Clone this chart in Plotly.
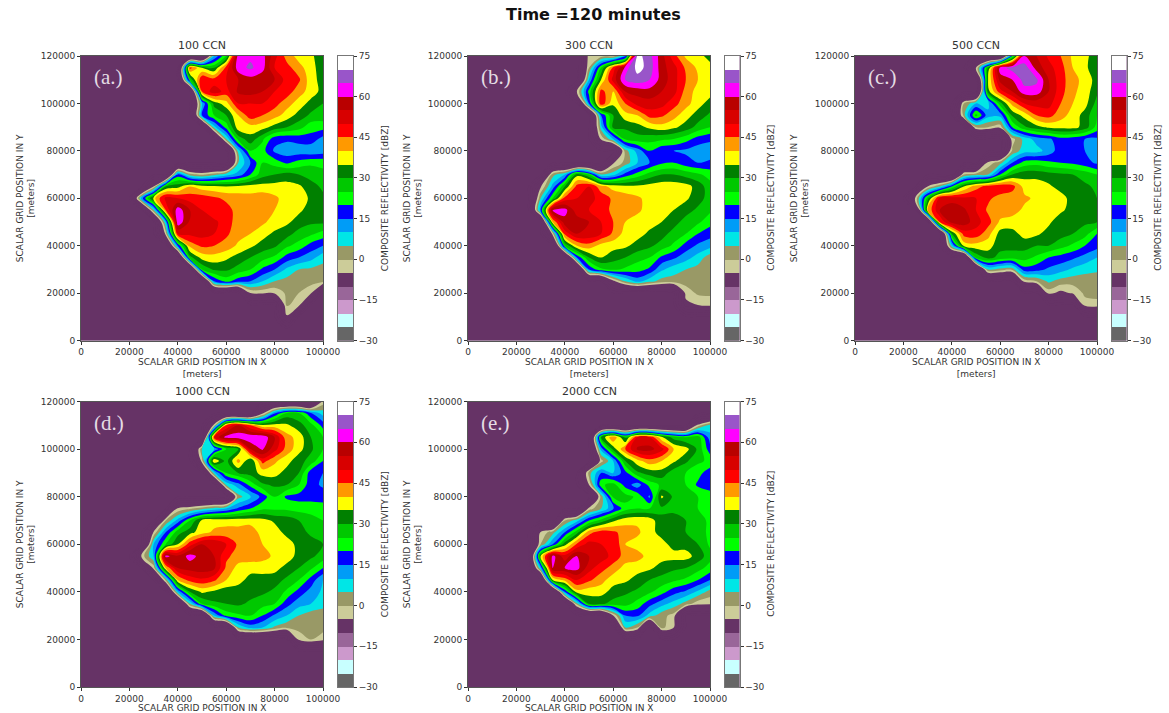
import plotly.graph_objects as go

W, H = 1169, 713
B = -30
XS = list(range(0, 105, 5))
YS = list(range(0, 125, 5))
XT = [0, 20000, 40000, 60000, 80000, 100000]
YT = [0, 20000, 40000, 60000, 80000, 100000, 120000]
CT = [-30, -15, 0, 15, 30, 45, 60, 75]
CCN = ["100 CCN", "300 CCN", "500 CCN", "1000 CCN", "2000 CCN"]
TAGS = ["(a.)", "(b.)", "(c.)", "(d.)", "(e.)"]
LEVEL_MIDS = [-27.5, -22.5, -17.5, -12.5, -7.5, -2.5, 2.5, 7.5, 12.5, 17.5, 22.5, 27.5,
              32.5, 37.5, 42.5, 47.5, 52.5, 57.5, 62.5, 67.5, 72.5]
COLORS = ["#666666", "#c8ffff", "#cc99cc", "#996699", "#663366", "#cccc99", "#999966",
          "#00e6e6", "#009cf7", "#0000ff", "#00ff00", "#00c800", "#008000", "#ffff00",
          "#ff9900", "#ff0000", "#d80000", "#b90000", "#ff00ff", "#9955c9", "#ffffff"]


def r(x0=100, *vals):
    row = [B] * (x0 // 5) + list(vals)
    if vals:
        assert len(row) == 21, (x0, vals)
    else:
        row = [B] * 21
    return row


Z100 = [r(), r(),
        r(85, -6, B, B, B),
        r(85, 1, -3, B, B),
        r(70, -5, -4, -4, 1, 0, -4, B),
        r(55, 15, 22, 17, 15, 10, 5, 3, 1, 2, 2),
        r(50, 25, 31, 31, 28, 25, 19, 15, 9, 5, 4, 3),
        r(45, 28, 37, 38, 36, 33, 30, 27, 24, 18, 15, 12, 7),
        r(40, 15, 42, 46, 45, 43, 39, 36, 33, 31, 26, 23, 18, 15),
        r(35, -3, 50, 51, 52, 50, 46, 42, 40, 37, 34, 32, 28, 26, 23),
        r(35, 10, 64, 54, 53, 51, 48, 42, 42, 41, 38, 36, 33, 31, 31),
        r(30, 5, 45, 63, 55, 50, 47, 47, 43, 42, 42, 40, 37, 36, 33, 31),
        r(25, 12, 38, 52, 50, 48, 48, 46, 44, 43, 42, 43, 41, 38, 38, 34, 31),
        r(30, -5, 30, 33, 40, 37, 36, 35, 36, 37, 37, 37, 37, 36, 32, 29),
        r(40, 17, 2, -1, 3, 8, 12, 20, 28, 30, 32, 30, 28, 26),
        r(65, 5, 15, 25, 23, 19, 22, 24, 24),
        r(65, 8, 25, 22, 14, 12, 12, 11, 12),
        r(60, 5, 27, 33, 26, 17, 16, 17, 18, 13),
        r(55, 8, 22, 38, 38, 37, 33, 30, 27, 22, 22),
        r(50, 15, 25, 30, 40, 48, 45, 42, 38, 33, 29, 28),
        r(50, 10, 32, 38, 50, 50, 50, 47, 42, 38, 33, 30),
        r(50, 45, 53, 48, 56, 57, 55, 50, 48, 42, 38, 33),
        r(45, 25, 50, 47, 50, 55, 58, 56, 55, 48, 46, 37, 33),
        r(45, 47, 35, 30, 47, 63, 66, 62, 50, 47, 42, 37, 32),
        r(55, 10, 25, 63, 64, 62, 52, 43, 38, 36, 32)]

Z300 = [r(), r(), r(),
        r(90, -7, -5, -3),
        r(90, -3, 1, 1),
        r(60, -7, 5, 12, 7, 3, 3, 2, 2, 1),
        r(50, 15, 24, 26, 24, 22, 19, 11, 7, 5, 3, 1),
        r(45, 15, 30, 35, 32, 30, 27, 25, 19, 16, 12, 8, 2),
        r(40, 25, 40, 43, 38, 37, 36, 33, 31, 28, 24, 18, 14, 12),
        r(35, -3, 47, 55, 54, 50, 44, 38, 37, 34, 32, 28, 25, 20, 17),
        r(35, 40, 58, 58, 55, 50, 45, 40, 38, 37, 35, 32, 28, 26, 22),
        r(30, 15, 62, 62, 52, 50, 47, 44, 42, 41, 38, 37, 35, 32, 29, 26),
        r(30, 5, 25, 47, 50, 52, 48, 44, 43, 41, 38, 38, 37, 36, 32, 28),
        r(30, -6, 12, 30, 47, 50, 42, 38, 36, 36, 37, 38, 38, 37, 33, 27),
        r(35, 3, 10, 33, 25, 5, 8, 17, 22, 27, 30, 30, 28, 26, 23),
        r(60, -6, 2, 10, 15, 19, 20, 17, 15, 16),
        r(65, 3, 12, 20, 16, 15, 14, 12, 12),
        r(55, -4, 10, 26, 28, 27, 26, 25, 22, 18, 16),
        r(55, 8, 32, 31, 33, 36, 38, 36, 33, 28, 25),
        r(55, 15, 30, 38, 40, 47, 46, 42, 37, 33, 29),
        r(50, 15, 49, 36, 45, 52, 53, 52, 47, 42, 37, 33),
        r(45, -5, 22, 47, 40, 55, 57, 58, 55, 52, 43, 38, 37),
        r(50, 10, 35, 52, 65, 68, 65, 58, 52, 45, 40, 37),
        r(50, 0, 25, 47, 62, 72, 68, 57, 52, 44, 39, 37),
        r(50, -2, -2, -2, 10, 72, 67, 57, 47, 39, 37, 33)]

Z500 = [r(), r(), r(),
        r(95, -2, -1),
        r(80, -3, -7, -4, 1, 1),
        r(70, -3, 0, 6, 3, 2, 2, 2),
        r(55, 5, 3, 2, 18, 17, 14, 12, 9, 7, 6),
        r(50, 26, 32, 28, 27, 27, 24, 20, 18, 16, 13, 10),
        r(40, 8, 37, 38, 37, 32, 32, 32, 30, 30, 27, 24, 20, 17),
        r(40, 30, 47, 48, 42, 33, 33, 37, 36, 33, 32, 30, 27, 20),
        r(35, 45, 57, 58, 52, 47, 39, 38, 38, 37, 36, 32, 31, 31, 30),
        r(30, 40, 55, 58, 56, 50, 44, 43, 42, 39, 38, 37, 36, 33, 31, 30),
        r(25, -4, 28, 52, 53, 51, 50, 46, 43, 42, 41, 39, 37, 37, 33, 31, 30),
        r(30, -5, 5, 20, 35, 43, 47, 49, 47, 38, 38, 36, 33, 32, 31, 29),
        r(45, 0, 3, 5, 20, 30, 33, 33, 32, 31, 30, 28, 25),
        r(55, -3, 3, 15, 22, 23, 21, 20, 19, 17, 14),
        r(65, 1, 8, 8, 12, 18, 17, 15, 12),
        r(65, -2, 7, 12, 14, 18, 17, 15, 14),
        r(50, 0, 0, -3, 20, 29, 33, 36, 37, 37, 33, 23),
        r(45, 3, 27, 12, 12, 31, 37, 45, 47, 42, 38, 33, 25),
        r(45, 0, 10, 8, 28, 42, 50, 52, 52, 45, 40, 37, 28),
        r(55, 33, 48, 55, 63, 63, 55, 47, 41, 38, 31),
        r(55, 35, 57, 60, 67, 66, 55, 47, 42, 38, 33),
        r(50, -5, 30, 63, 67, 68, 58, 52, 47, 40, 36, 32),
        r(65, 20, 60, 55, 49, 45, 39, 37, 31)]

Z1000 = [r(), r(), r(), r(),
         r(90, -4, 0, -3),
         r(65, 5, 12, 10, 4, 1, 2, 2, 2),
         r(55, 10, 22, 24, 25, 20, 14, 10, 5, 2, 2),
         r(45, 5, 25, 29, 30, 31, 29, 27, 25, 17, 12, 10, 7),
         r(40, 10, 30, 36, 34, 32, 32, 32, 31, 29, 24, 18, 13, 9),
         r(35, 1, 40, 47, 49, 46, 40, 37, 33, 33, 32, 29, 25, 18, 10),
         r(30, -3, 40, 55, 57, 58, 56, 44, 38, 37, 37, 37, 33, 30, 26, 20),
         r(25, -3, 10, 62, 56, 62, 58, 55, 46, 43, 43, 42, 39, 38, 33, 31, 28),
         r(30, 10, 25, 35, 48, 55, 55, 50, 44, 42, 40, 38, 38, 33, 32, 30),
         r(30, -4, 15, 28, 33, 38, 41, 42, 42, 43, 38, 38, 33, 32, 29, 26),
         r(35, 0, 12, 25, 36, 38, 38, 38, 38, 37, 34, 33, 30, 27, 25),
         r(40, -4, -1, 3, 7, 10, 16, 20, 24, 24, 24, 23, 23, 22),
         r(65, 3, 9, 17, 25, 19, 18, 18, 18),
         r(60, 6, 13, 22, 29, 31, 30, 25, 17, 14),
         r(55, 8, 25, 30, 32, 37, 37, 33, 30, 17, 15),
         r(50, -2, 40, 28, 42, 30, 47, 41, 37, 32, 28, 20),
         r(50, 5, 10, 25, 30, 55, 61, 52, 43, 37, 31, 25),
         r(55, 50, 62, 63, 64, 64, 55, 42, 38, 30, 25),
         r(55, -3, 45, 55, 45, 36, 37, 36, 32, 27, 18),
         r(75, -6, 15, 27, 26, 16, 8),
         r(100, -3)]

Z2000 = [r(), r(), r(), r(), r(),
         r(65, 5, 0, B, 2, -5, B, B, B),
         r(60, -5, 15, 16, 8, 2, -2, B, B, B),
         r(45, 3, 31, 31, 28, 27, 23, 17, 12, 8, 3, -3, -4),
         r(40, 15, 38, 37, 37, 33, 31, 29, 26, 22, 17, 14, 9, 3),
         r(35, 35, 42, 50, 46, 42, 37, 36, 33, 30, 28, 26, 24, 20, 15),
         r(30, 10, 60, 60, 62, 52, 47, 43, 38, 37, 36, 33, 31, 30, 27, 23),
         r(30, 35, 62, 52, 60, 55, 53, 48, 43, 42, 38, 37, 37, 37, 33, 27),
         r(30, 0, 15, 33, 46, 52, 50, 50, 40, 38, 38, 37, 33, 33, 30, 24),
         r(30, -4, 3, 15, 28, 43, 48, 46, 43, 41, 37, 33, 31, 30, 27, 24),
         r(40, 0, 8, 20, 27, 34, 38, 39, 38, 31, 33, 30, 27, 24),
         r(50, -3, 5, 14, 23, 25, 25, 29, 28, 28, 25, 24),
         r(55, 2, 26, 27, 24, 14, 36, 29, 27, 25, 24),
         r(50, -5, 24, 27, 18, 12, 22, 26, 27, 25, 19, 16),
         r(50, 3, 15, 10, 18, 29, 32, 33, 27, 25, 22, 17),
         r(55, -2, 10, 30, 38, 43, 40, 36, 31, 26, 24),
         r(55, 12, 32, 45, 56, 57, 52, 40, 37, 29, 17),
         r(55, 30, 45, 28, 50, 50, 36, 28, 25, 28, 12),
         r(95, -3, 7),
         r(), r()]

PANELS = [Z100, Z300, Z500, Z1000, Z2000]
# pixel boxes: left, right, top, bottom, colorbar left
BOX = [(81, 323, 56, 340.5, 338), (468, 710, 56, 340.5, 724.5), (855, 1097, 56, 340.5, 1111.5),
       (81, 323, 401.5, 687, 338), (468, 710, 401.5, 687, 724.5)]

n = len(COLORS)
bar_scale = []
for i, c in enumerate(COLORS):
    bar_scale += [[i / n, c], [(i + 1) / n, c]]
# the map never shows anything under -5 but the background colour
map_scale = []
for i, c in enumerate(COLORS):
    col = COLORS[4] if i < 4 else c
    map_scale += [[i / n, col], [(i + 1) / n, col]]

TXT = "#333333"
FONT = "DejaVu Sans"
F9 = dict(size=9, color=TXT, family=FONT)
fig = go.Figure()
ann = []


def label(text, x, y, **kw):
    font = kw.pop("font", F9)
    ann.append(dict(text=text, x=x / W, y=1 - y / H, xref="paper", yref="paper", showarrow=False,
                    xanchor=kw.pop("xanchor", "center"), yanchor="middle", font=font, **kw))


for i, (z, b) in enumerate(zip(PANELS, BOX)):
    l, rr, t, bt, cb = b
    s = "" if i == 0 else str(i + 1)
    cs = str(i + 6)
    fig.add_trace(go.Contour(
        x=[v * 1000 for v in XS], y=[v * 1000 for v in YS], z=z,
        xaxis="x" + s, yaxis="y" + s, zmin=-30, zmax=75, colorscale=map_scale,
        autocontour=False, showscale=False,
        contours=dict(start=-30, end=75, size=5, coloring="fill", showlines=False),
        line=dict(width=0), hoverinfo="skip",
    ))
    fig.add_trace(go.Heatmap(
        x=[0], y=LEVEL_MIDS, z=[[v] for v in LEVEL_MIDS], xaxis="x" + cs, yaxis="y" + cs,
        zmin=-30, zmax=75, colorscale=bar_scale, showscale=False, hoverinfo="skip",
    ))
    ax = dict(showgrid=False, zeroline=False, ticks="outside", ticklen=3, tickwidth=1,
              tickcolor=TXT, linecolor="#555555", linewidth=1, mirror=True,
              tickfont=F9, tickformat="d")
    fig.update_layout(**{
        "xaxis" + s: dict(domain=[l / W, rr / W], range=[0, 100000], tickvals=XT, anchor="y" + s, **ax),
        "yaxis" + s: dict(domain=[1 - bt / H, 1 - t / H], range=[0, 120000], tickvals=YT, anchor="x" + s, **ax),
        "xaxis" + cs: dict(domain=[cb / W, (cb + 15) / W], showticklabels=False, ticks="", showgrid=False,
                           zeroline=False, linecolor="#777777", mirror=True, anchor="y" + cs),
        "yaxis" + cs: dict(domain=[1 - bt / H, 1 - t / H], range=[-30, 75], tickvals=CT, side="right",
                           anchor="x" + cs, ticks="outside", ticklen=3, tickcolor=TXT, showgrid=False,
                           zeroline=False, linecolor="#777777", mirror=True, tickfont=F9),
    })
    mid_x, mid_y = (l + rr) / 2, (t + bt) / 2
    label(CCN[i], mid_x, t - 10, font=dict(size=11, color=TXT, family=FONT))
    label(TAGS[i], l + 11, t + 21, xanchor="left",
          font=dict(size=21, color="#e4dce4", family="Liberation Serif"))
    if i < 3:
        label("SCALAR GRID POSITION IN X<br>[meters]", mid_x, bt + 27)
    else:
        label("SCALAR GRID POSITION IN X", mid_x, bt + 21)
    label("SCALAR GRID POSITION IN Y<br>[meters]", l - 55, mid_y, textangle=-90)
    label("COMPOSITE REFLECTIVITY [dBZ]", cb + 47, mid_y, textangle=-90)

label("<b>Time =120 minutes</b>", 593, 15, font=dict(size=16, color="#111111", family=FONT))

fig.update_layout(width=W, height=H, margin=dict(l=0, r=0, t=0, b=0, autoexpand=False), paper_bgcolor="white",
                  plot_bgcolor="#663366", annotations=ann, showlegend=False)
fig.write_html("out.html", config=dict(displayModeBar=False),
               post_script="document.body.style.margin='0';")
